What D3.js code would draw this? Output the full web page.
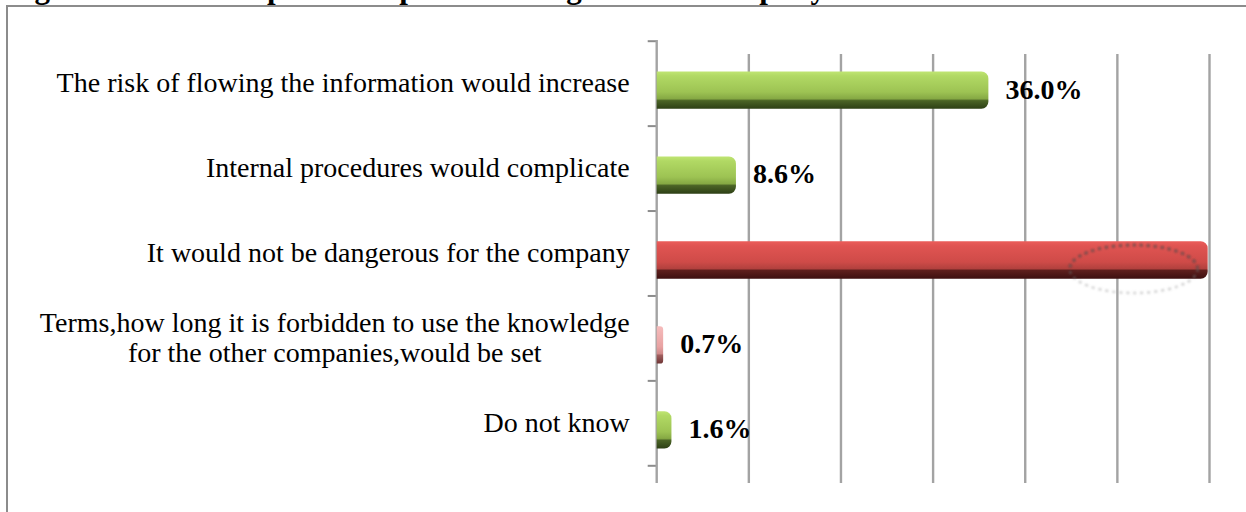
<!DOCTYPE html>
<html>
<head>
<meta charset="utf-8">
<script src="https://cdn.jsdelivr.net/npm/d3@7"></script>
<style>
  html, body { margin: 0; padding: 0; background: #fff; }
  svg { display: block; }
  text { font-family: "Liberation Serif", "Times New Roman", serif; fill: #000; }
</style>
</head>
<body>
<svg></svg>
<script>
var width = 1246;
var height = 512;

// data
var title = "Figure 4.13. The expected impact of changes of the company";
var categories = [
  ["The risk of flowing the information would increase"],
  ["Internal procedures would complicate"],
  ["It would not be dangerous for the company"],
  ["Terms,how long it is forbidden to use the knowledge", "for the other companies,would be set"],
  ["Do not know"]
];
var values = [36.0, 8.6, 59.8, 0.7, 1.6];
var valueLabels = ["36.0%", "8.6%", "", "0.7%", "1.6%"];
var gridTicks = [0, 10, 20, 30, 40, 50, 60];

// which gradient each bar uses
var barFill = ["green", "green", "red", "pink", "green"];

var svg = d3.select("svg")
    .attr("width", width)
    .attr("height", height);

var defs = svg.append("defs");

var gradients = {
  green: [[0, "#c0e573"], [0.12, "#b1d964"], [0.55, "#9dc353"], [0.73, "#86a944"], [0.78, "#4b6426"], [1, "#2d3f15"]],
  red: [[0, "#eb5d5a"], [0.12, "#e05452"], [0.55, "#cf4b48"], [0.73, "#b2413e"], [0.78, "#5e1f1d"], [1, "#3d1010"]],
  pink: [[0, "#f6bcbc"], [0.55, "#e8a2a2"], [0.73, "#d08a8a"], [0.78, "#a05e5e"], [1, "#6e3535"]]
};

Object.keys(gradients).forEach(function(k) {
  var g = defs.append("linearGradient")
      .attr("id", "grad-" + k)
      .attr("x1", 0).attr("y1", 0)
      .attr("x2", 0).attr("y2", 1);
  g.selectAll("stop")
    .data(gradients[k])
    .enter()
      .append("stop")
      .attr("offset", d => d[0])
      .attr("stop-color", d => d[1]);
});

defs.append("filter")
    .attr("id", "soft")
  .append("feGaussianBlur")
    .attr("stdDeviation", 0.8);

// frame of the figure, running off the right and bottom edges
svg.append("rect")
    .attr("x", 7)
    .attr("y", 6)
    .attr("width", width + 20)
    .attr("height", height + 20)
    .attr("fill", "none")
    .attr("stroke", "#8c8c8c")
    .attr("stroke-width", 2);

// title, mostly cut off above the picture (only descenders show)
svg.append("text")
    .attr("x", 6)
    .attr("y", -2)
    .attr("textLength", 820)
    .attr("lengthAdjust", "spacing")
    .style("font-size", "31px")
    .style("font-weight", "bold")
    .text(title);

var xScale = d3.scaleLinear()
    .domain([0, 60])
    .range([656.7, 1209.5]);

var yScale = d3.scaleBand()
    .domain(d3.range(categories.length))
    .range([40.7, 465.3]);

var tickScale = d3.scaleLinear()
    .domain([0, categories.length])
    .range([40.7, 465.3]);

// vertical grid lines
svg.append("g")
    .selectAll("line")
    .data(gridTicks.slice(1))
    .enter()
      .append("line")
      .attr("x1", d => xScale(d))
      .attr("x2", d => xScale(d))
      .attr("y1", 54)
      .attr("y2", 483)
      .attr("stroke", "#a3a3a3")
      .attr("stroke-width", 2.4);

// category axis
svg.append("g")
    .attr("transform", "translate(" + xScale(0) + ",0)")
    .call(d3.axisLeft(tickScale)
            .tickValues(d3.range(categories.length + 1))
            .tickSize(9)
            .tickSizeOuter(0)
            .tickFormat(""))
    .call(g => g.select(".domain").remove())
    .call(g => g.selectAll(".tick line").attr("stroke", "#8c8c8c").attr("stroke-width", 2));

svg.append("line")
    .attr("x1", xScale(0))
    .attr("x2", xScale(0))
    .attr("y1", 40)
    .attr("y2", 483)
    .attr("stroke", "#a3a3a3")
    .attr("stroke-width", 2.4);

var barH = yScale.bandwidth() * 0.44;
var barY = i => yScale(i) + (yScale.bandwidth() - barH) / 2 + 7;

function barPath(x0, x1, y, h) {
  var r = Math.min(7, (x1 - x0) / 2);
  return "M" + x0 + "," + y +
         "H" + (x1 - r) +
         "A" + r + "," + r + " 0 0 1 " + x1 + "," + (y + r) +
         "V" + (y + h - r) +
         "A" + r + "," + r + " 0 0 1 " + (x1 - r) + "," + (y + h) +
         "H" + x0 + "Z";
}

svg.append("g")
    .selectAll("path")
    .data(values)
    .enter()
      .append("path")
      .attr("d", (d, i) => barPath(xScale(0), xScale(d), barY(i), barH))
      .attr("fill", (d, i) => "url(#grad-" + barFill[i] + ")");

// faint dashed ring left on the long red bar: dark over the bar, pale below it
var big = values.indexOf(d3.max(values));
defs.append("clipPath")
    .attr("id", "big-bar")
  .append("path")
    .attr("d", barPath(xScale(0), xScale(values[big]), barY(big), barH));

var ring = {
  cx: xScale(values[big]) - 74,
  cy: barY(big) + barH / 2 + 9
};

[["#2a0808", 0.6, "url(#big-bar)"], ["#9a9a9a", 0.45, null]].forEach(function(s) {
  svg.append("ellipse")
      .attr("cx", ring.cx)
      .attr("cy", ring.cy)
      .attr("rx", 64)
      .attr("ry", 24)
      .attr("fill", "none")
      .attr("stroke", s[0])
      .attr("stroke-opacity", s[1])
      .attr("stroke-width", 2.5)
      .attr("stroke-dasharray", "3 4")
      .attr("filter", "url(#soft)")
      .attr("clip-path", s[2]);
});

// value labels
svg.append("g")
    .selectAll("text")
    .data(values)
    .enter()
      .append("text")
      .attr("x", d => xScale(d) + 17)
      .attr("y", (d, i) => barY(i) + barH / 2)
      .attr("dy", "0.3em")
      .style("font-size", "28px")
      .style("font-weight", "bold")
      .text((d, i) => valueLabels[i]);

// category labels
var labelRight = xScale(0) - 27;
var fontSize = 28;
var lineGap = 30;

var labels = svg.append("g")
    .selectAll("text")
    .data(categories)
    .enter()
      .append("text")
      .style("font-size", fontSize + "px")
      .attr("y", (d, i) => yScale(i) + yScale.bandwidth() / 2);

labels.each(function(lines) {
  var t = d3.select(this);
  lines.forEach(function(line, j) {
    t.append("tspan")
        .attr("dy", j === 0 ? (0.33 - (lines.length - 1) * 0.5 * lineGap / fontSize) + "em" : lineGap + "px")
        .text(line);
  });
  var widest = d3.max(t.selectAll("tspan").nodes(), n => n.getComputedTextLength());
  t.selectAll("tspan")
      .attr("x", labelRight - widest / 2)
      .style("text-anchor", "middle");
});
</script>
</body>
</html>
